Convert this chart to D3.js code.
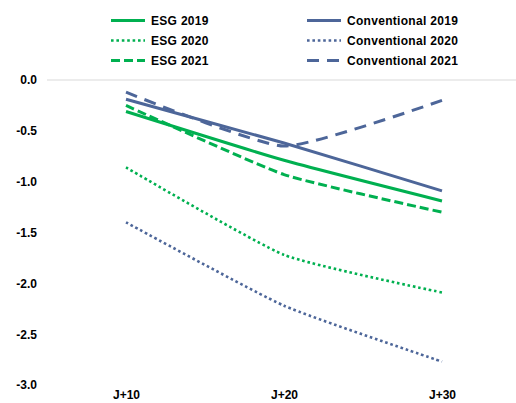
<!DOCTYPE html>
<html>
<head>
<meta charset="utf-8">
<script src="https://cdn.jsdelivr.net/npm/d3@7"></script>
<style>
  html, body { margin: 0; padding: 0; background: #fff; }
  svg { display: block; font-family: "Liberation Sans", Arial, sans-serif; }
</style>
</head>
<body>
<svg id="chart" width="516" height="403"></svg>
<script>
// Horizons on the x axis
const horizons = ["J+10", "J+20", "J+30"];

// Series values per horizon
const esg2019 = [-0.31, -0.79, -1.19];
const esg2020 = [-0.86, -1.72, -2.09];
const esg2021 = [-0.25, -0.93, -1.30];
const conv2019 = [-0.19, -0.62, -1.09];
const conv2020 = [-1.40, -2.22, -2.77];
const conv2021 = [-0.12, -0.65, -0.20];

// Y axis ticks
const yTicks = [0, -0.5, -1.0, -1.5, -2.0, -2.5, -3.0];

const green = "#00b050";
const blue = "#4d6699";

const series = [
  { name: "ESG 2019", values: esg2019, color: green, dash: null, width: 3 },
  { name: "Conventional 2019", values: conv2019, color: blue, dash: null, width: 3 },
  { name: "ESG 2020", values: esg2020, color: green, dash: "2.6,2.8", width: 2.6 },
  { name: "Conventional 2020", values: conv2020, color: blue, dash: "2.6,2.8", width: 2.6 },
  { name: "ESG 2021", values: esg2021, color: green, dash: "9,4", width: 3 },
  { name: "Conventional 2021", values: conv2021, color: blue, dash: "12,8", width: 3 }
];

const svg = d3.select("#chart");

const x = d3.scalePoint().domain(horizons).range([47, 521]).padding(0.5);
const y = d3.scaleLinear().domain([-3, 0]).range([385, 80]);

const fmt = v => (v < 0 ? "-" : "") + Math.abs(v).toFixed(1);

// Zero gridline
svg.append("line")
  .attr("x1", 47).attr("x2", 516)
  .attr("y1", y(0)).attr("y2", y(0))
  .attr("stroke", "#d9d9d9").attr("stroke-width", 1);

// Y axis labels
const yAxis = d3.axisLeft(y).tickValues(yTicks).tickFormat(fmt).tickSize(0).tickPadding(0);
const gy = svg.append("g").attr("transform", "translate(37,0)").call(yAxis);
gy.select(".domain").remove();
gy.selectAll("text")
  .attr("font-family", "Liberation Sans, Arial, sans-serif")
  .attr("font-size", 12).attr("font-weight", "bold").attr("fill", "#000");

// X axis labels
const xAxis = d3.axisBottom(x).tickSize(0).tickPadding(0);
const gx = svg.append("g").attr("transform", "translate(0,390)").call(xAxis);
gx.select(".domain").remove();
gx.selectAll("text")
  .attr("font-family", "Liberation Sans, Arial, sans-serif")
  .attr("font-size", 12).attr("font-weight", "bold").attr("fill", "#000")
  .attr("dy", "0.71em");

// Lightly smoothed lines
const line = d3.line()
  .x((d, i) => x(horizons[i]))
  .y(d => y(d))
  .curve(d3.curveCardinal.tension(0.5));

svg.append("g").selectAll("path")
  .data(series)
  .join("path")
  .attr("d", d => line(d.values))
  .attr("fill", "none")
  .attr("stroke", d => d.color)
  .attr("stroke-width", d => d.width)
  .attr("stroke-dasharray", d => d.dash);

// Legend: ESG in the left column, Conventional in the right column
const legendItems = [
  { s: series[0], col: 0, row: 0 },
  { s: series[2], col: 0, row: 1 },
  { s: series[4], col: 0, row: 2 },
  { s: series[1], col: 1, row: 0 },
  { s: series[3], col: 1, row: 1 },
  { s: series[5], col: 1, row: 2 }
];
const colX = [111, 307];
const rowY = [20.5, 40.5, 60.5];

const lg = svg.append("g").selectAll("g")
  .data(legendItems)
  .join("g")
  .attr("transform", d => `translate(${colX[d.col]},${rowY[d.row]})`);

lg.append("line")
  .attr("x1", 0).attr("x2", 34).attr("y1", 0).attr("y2", 0)
  .attr("stroke", d => d.s.color)
  .attr("stroke-width", d => d.s.width)
  .attr("stroke-dasharray", d => d.s.dash);

lg.append("text")
  .attr("x", 40).attr("y", 0).attr("dy", "0.35em")
  .attr("font-family", "Liberation Sans, Arial, sans-serif")
  .attr("font-size", 12).attr("font-weight", "bold")
  .attr("letter-spacing", 0.3)
  .attr("fill", "#000")
  .text(d => d.s.name);
</script>
</body>
</html>
